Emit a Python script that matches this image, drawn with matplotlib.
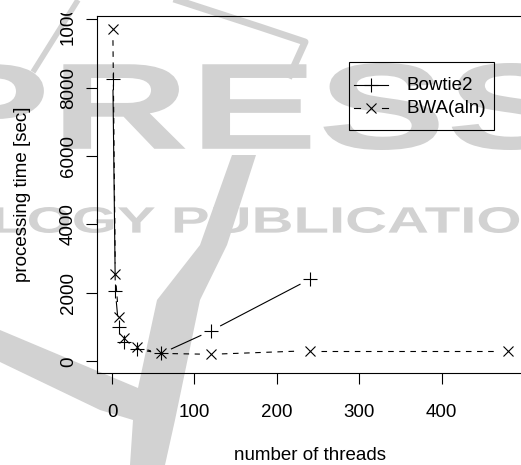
import numpy as np
import matplotlib
matplotlib.use('Agg')
import matplotlib.pyplot as plt
from matplotlib.textpath import TextPath
from matplotlib.patches import PathPatch, Polygon, Rectangle
from matplotlib.font_manager import FontProperties
from matplotlib.transforms import Affine2D, Bbox, TransformedBbox

plt.rcParams['font.family'] = ['Liberation Sans', 'DejaVu Sans']
plt.rcParams['font.size'] = 13.5

# data
threads_bowtie = [1, 4, 8, 15, 30, 60, 120, 240]
time_bowtie = [8250, 2060, 1010, 570, 350, 230, 890, 2400]
threads_bwa = [1, 4, 8, 15, 30, 60, 120, 240, 480]
time_bwa = [9710, 2540, 1300, 670, 410, 230, 205, 310, 310]
series_names = ['Bowtie2', 'BWA(aln)']
x_ticks = [0, 100, 200, 300, 400]
y_ticks = [0, 2000, 4000, 6000, 8000, 10000]

W, H = 521, 465
fig = plt.figure(figsize=(W / 100, H / 100), dpi=100)

# background watermark, drawn in pixel coordinates
bg = fig.add_axes([0, 0, 1, 1], zorder=0)
bg.set_xlim(0, W)
bg.set_ylim(H, 0)
bg.axis('off')
wm = '#d2d2d2'


def fit_text(s, x0, x1, y0, y1):
    tp = TextPath((0, 0), s, size=10,
                  prop=FontProperties(family='Liberation Sans', weight='bold'))
    ext = tp.get_extents()
    tr = (Affine2D().translate(-ext.x0, -ext.y0)
          .scale((x1 - x0) / ext.width, -(y1 - y0) / ext.height)
          .translate(x0, y1))
    bg.add_patch(PathPatch(tr.transform_path(tp), fc=wm, ec='none'))


fit_text('PRESS', -65, 567, 63, 150)
fit_text('LOGY PUBLICATIONS', -5, 600, 207, 233)
swoosh = [(0, 330), (138, 388), (157, 300), (200, 245), (232, 155), (256, 155),
          (227, 245), (200, 300), (175, 420), (165, 465), (130, 465),
          (133, 420), (100, 410), (0, 362)]
bg.add_patch(Polygon(swoosh, closed=True, fc=wm, ec='none'))
bg.plot([33, 78], [72, 0], color=wm, lw=4, solid_capstyle='butt')
bg.plot([177, 260, 305, 290], [0, 27, 42, 75], color=wm, lw=5)

# main plot
ax = fig.add_axes([96.7 / W, 1 - 373 / H, (523 - 96.7) / W, (373 - 15.7) / H],
                  zorder=1)
ax.set_facecolor('none')
ax.set_xlim(-18.6, 498.8)
ax.set_ylim(-342, 10105)
for sp in ax.spines.values():
    sp.set_linewidth(0.8)

lw = 0.8
dash = (0, (5, 5))


def gapped(xs, ys, gap=11, **kw):
    # R style type="b": lines that stop short of the points
    pts = ax.transData.transform(np.column_stack([xs, ys]))
    inv = ax.transData.inverted()
    for p0, p1 in zip(pts[:-1], pts[1:]):
        d = p1 - p0
        L = np.hypot(*d)
        if L <= 2 * gap:
            continue
        u = d / L
        seg = inv.transform(np.array([p0 + u * gap, p1 - u * gap]))
        ax.plot(seg[:, 0], seg[:, 1], color='k', lw=lw, **kw)


gapped(threads_bowtie, time_bowtie)
gapped(threads_bwa, time_bwa, linestyle=dash)
ax.plot(threads_bowtie, time_bowtie, ls='none', marker='+', ms=9.5, mew=lw, color='k')
ax.plot(threads_bwa, time_bwa, ls='none', marker='x', ms=6.5, mew=lw, color='k')

ax.set_xticks(x_ticks)
ax.set_yticks(y_ticks)
ax.set_yticklabels([str(v) for v in y_ticks], rotation=90, va='center')
ax.tick_params(axis='both', direction='out', length=7.8, width=0.8)
ax.tick_params(axis='x', pad=14.5)
ax.tick_params(axis='y', pad=6.5)
ax.set_xlabel('number of threads', labelpad=19)
ax.set_ylabel('processing time [sec]', labelpad=21)

# R style legend box, laid out in pixels
bg.add_patch(Rectangle((349, 62), 145, 68, fc='none', ec='k', lw=0.8, zorder=5))
leg_y = [85, 108]
bg.plot([354, 388], [leg_y[0]] * 2, color='k', lw=lw)
bg.plot([371], [leg_y[0]], ls='none', marker='+', ms=9.5, mew=lw, color='k')
bg.plot([354, 360], [leg_y[1]] * 2, color='k', lw=lw)
bg.plot([382, 388], [leg_y[1]] * 2, color='k', lw=lw)
bg.plot([371], [leg_y[1]], ls='none', marker='x', ms=6.5, mew=lw, color='k')
for yy, name in zip(leg_y, series_names):
    bg.text(406, yy, name, ha='left', va='center')

fig.canvas.draw()
clip = TransformedBbox(Bbox([[0, 0], [1, 1 - 13 / H]]), fig.transFigure)
for lab in ax.get_yticklabels():
    lab.set_clip_box(clip)
    lab.set_clip_on(True)

fig.savefig('out.png', dpi=100)
